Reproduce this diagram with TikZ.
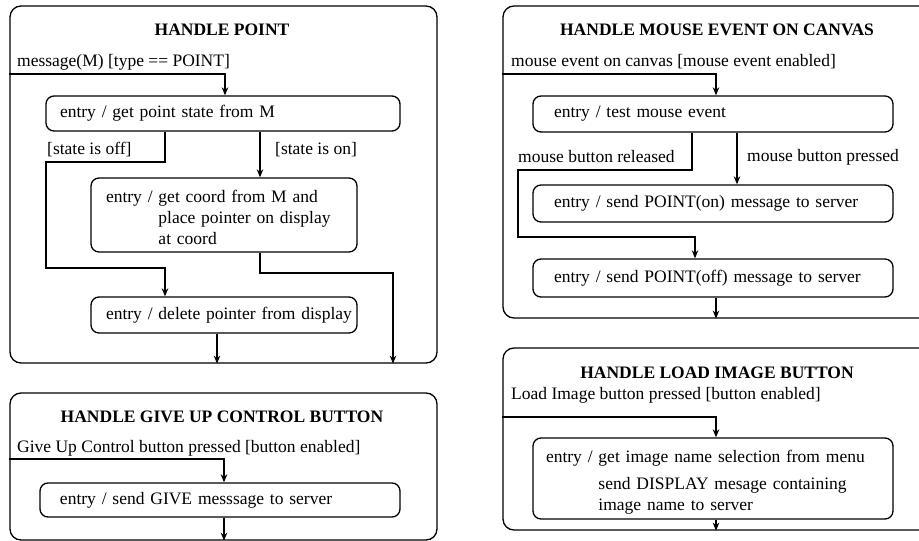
\documentclass[tikz,border=0pt]{standalone}
\usepackage{fontspec}
\setmainfont{Liberation Serif}
\usetikzlibrary{arrows.meta}
\begin{document}
\begin{tikzpicture}[x=1pt,y=-1pt,
  font=\fontsize{17.5}{21}\selectfont,
  frame/.style={draw,line width=1.3pt,rounded corners=11pt,inner sep=0pt},
  statebox/.style={draw,line width=1.3pt,rounded corners=8pt,inner xsep=3pt,inner ysep=0pt,align=left},
  leftpad/.style={execute at begin node={\hspace*{#1}}},
  heading/.style={font=\fontsize{17.5}{21}\selectfont\bfseries,inner sep=0pt},
  trig/.style={anchor=west,inner sep=0pt},
  flow/.style={draw,line width=1.3pt,-{Stealth[length=8pt,width=6.5pt,inset=2.5pt]}},
]
\useasboundingbox (0,0) rectangle (919,541);
\fill[white] (0,0) rectangle (919,541);
\clip (0,0) rectangle (919,541);

% ---------------- HANDLE POINT ----------------
\node[frame,minimum width=427pt,minimum height=357pt] (hp) at (223.5,184.5) {};
\node[heading] (hpH) at (222,30) {HANDLE POINT};
\node[trig] (hpL) at (17,62) {message(M) [type == POINT]};
\node[statebox,text width=348pt,leftpad=11pt,minimum height=35pt] (b1) at (223,113.5)
  {entry / get point state from M};
\node[statebox,text width=260pt,leftpad=12pt,minimum height=74pt] (b2) at (224,215)
  {\raisebox{-4pt}[\height][\depth]{\begin{tabular}{@{}l@{}l@{}}entry / & \ get coord from M and\\ & \ place pointer on display\\ & \ at coord\end{tabular}}};
\node[statebox,text width=260pt,leftpad=12pt,minimum height=36pt] (b3) at (224,315)
  {entry / delete pointer from display};
\node[trig] (offL) at (47,150) {[state is off]};
\node[trig] (onL) at (275,150) {[state is on]};

\coordinate (hpT) at (225,74);
\coordinate (offA) at (165,162);
\coordinate (offB) at (46,268);
\coordinate (onX) at (260,0);
\coordinate (exA) at (393,273);
\coordinate (b3X) at (217,0);
\draw[flow] (hp.west |- hpT) -- (hpT) -- (hpT |- b1.north);
\draw[flow] (offA |- b1.south) -- (offA) -| (offB) -| (offA |- b3.north);
\draw[flow] (onX |- b1.south) -- (onX |- b2.north);
\draw[flow] (onX |- b2.south) |- (exA) -- (exA |- hp.south);
\draw[flow] (b3X |- b3.south) -- (b3X |- hp.south);

% ---------------- HANDLE GIVE UP CONTROL BUTTON ----------------
\node[frame,minimum width=427pt,minimum height=147pt] (gu) at (223.5,466.5) {};
\node[heading] (guH) at (222,417) {HANDLE GIVE UP CONTROL BUTTON};
\node[trig] (guL) at (17,448) {Give Up Control button pressed [button enabled]};
\node[statebox,text width=354pt,leftpad=17pt,minimum height=34pt] (g1) at (220,500)
  {entry / send GIVE messsage to server};
\coordinate (guT) at (224,459);
\draw[flow] (gu.west |- guT) -- (guT) -- (guT |- g1.north);
\draw[flow] (guT |- g1.south) -- (guT |- gu.south);

% ---------------- HANDLE MOUSE EVENT ON CANVAS ----------------
\node[frame,minimum width=427pt,minimum height=312pt] (me) at (716.5,162) {};
\node[heading] (meH) at (717,30) {HANDLE MOUSE EVENT ON CANVAS};
\node[trig] (meL) at (511,62) {mouse event on canvas [mouse event enabled]};
\node[statebox,text width=354pt,leftpad=18pt,minimum height=36pt] (mA) at (713,114)
  {entry / test mouse event};
\node[statebox,text width=354pt,leftpad=18pt,minimum height=37pt] (mB) at (713,203.5)
  {entry / send POINT(on) message to server};
\node[statebox,text width=354pt,leftpad=18pt,minimum height=38pt] (mC) at (713,278)
  {entry / send POINT(off) message to server};
\node[trig] (relL) at (518,157) {mouse button released};
\node[trig] (prL) at (747,157) {mouse button pressed};

\coordinate (meT) at (716,74);
\coordinate (relA) at (692,170);
\coordinate (relB) at (518,237);
\coordinate (relX) at (695,0);
\coordinate (prX) at (737,0);
\draw[flow] (me.west |- meT) -- (meT) -- (meT |- mA.north);
\draw[flow] (relA |- mA.south) -- (relA) -| (relB) -| (relX |- mC.north);
\draw[flow] (prX |- mA.south) -- (prX |- mB.north);
\draw[flow] (meT |- mC.south) -- (meT |- me.south);

% ---------------- HANDLE LOAD IMAGE BUTTON ----------------
\node[frame,minimum width=427pt,minimum height=182pt] (li) at (716.5,439) {};
\node[heading] (liH) at (717,373) {HANDLE LOAD IMAGE BUTTON};
\node[trig] (liL) at (511,395) {Load Image button pressed [button enabled]};
\node[statebox,text width=354pt,leftpad=10pt,minimum height=81pt] (mD) at (713,478.5)
  {\raisebox{-4pt}[\height][\depth]{\begin{tabular}{@{}l@{}l@{}}entry / & \ get image name selection from menu\\[6pt] & \ send DISPLAY mesage containing\\ & \ image name to server\end{tabular}}};
\coordinate (liT) at (716,417);
\draw[flow] (li.west |- liT) -- (liT) -- (liT |- mD.north);
\draw[flow] (liT |- mD.south) -- (liT |- li.south);
\end{tikzpicture}
\end{document}
